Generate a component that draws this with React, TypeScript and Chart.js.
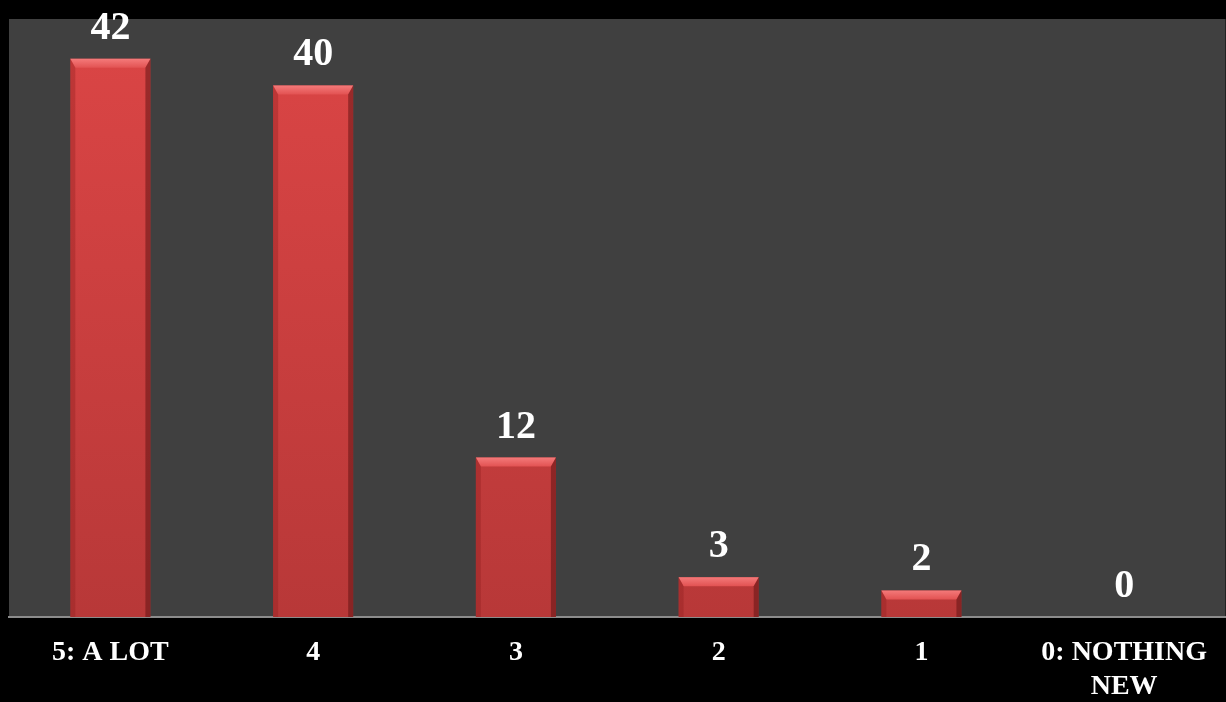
import React, { useEffect, useRef } from "react";
import { Chart, registerables } from "chart.js";

Chart.register(...registerables);

const categories: (string | string[])[] = ["5: A LOT", "4", "3", "2", "1", ["0: NOTHING", "NEW"]];
const values: number[] = [42, 40, 12, 3, 2, 0];
const yMax = 45;

const plotBg = {
  id: "plotBg",
  beforeDraw(chart: any) {
    const { ctx, chartArea, width, height } = chart;
    ctx.save();
    ctx.fillStyle = "#000000";
    ctx.fillRect(0, 0, width, height);
    ctx.fillStyle = "#404040";
    ctx.fillRect(chartArea.left, chartArea.top, chartArea.right - chartArea.left, chartArea.bottom - chartArea.top);
    ctx.restore();
  },
};

const bevel = {
  id: "bevel",
  afterDatasetsDraw(chart: any) {
    const { ctx } = chart;
    const meta = chart.getDatasetMeta(0);
    ctx.save();
    meta.data.forEach((bar: any) => {
      const w = bar.width;
      const l = bar.x - w / 2;
      const r = bar.x + w / 2;
      const t = bar.y;
      const b = bar.base;
      const h = b - t;
      if (h < 1) return;
      const bv = Math.min(9, h / 2);
      const sv = Math.min(5, w / 2);
      ctx.beginPath();
      ctx.moveTo(l, t);
      ctx.lineTo(r, t);
      ctx.lineTo(r - sv, t + bv);
      ctx.lineTo(l + sv, t + bv);
      ctx.closePath();
      const gt = ctx.createLinearGradient(0, t, 0, t + bv);
      gt.addColorStop(0, "#f47a7a");
      gt.addColorStop(1, "#e25252");
      ctx.fillStyle = gt;
      ctx.fill();
      ctx.beginPath();
      ctx.moveTo(l, t);
      ctx.lineTo(l + sv, t + bv);
      ctx.lineTo(l + sv, b);
      ctx.lineTo(l, b);
      ctx.closePath();
      ctx.fillStyle = "rgba(140,30,30,0.35)";
      ctx.fill();
      ctx.beginPath();
      ctx.moveTo(r, t);
      ctx.lineTo(r - sv, t + bv);
      ctx.lineTo(r - sv, b);
      ctx.lineTo(r, b);
      ctx.closePath();
      ctx.fillStyle = "rgba(90,15,15,0.5)";
      ctx.fill();
    });
    ctx.restore();
  },
};

const valueLabels = {
  id: "valueLabels",
  afterDatasetsDraw(chart: any) {
    const { ctx } = chart;
    const meta = chart.getDatasetMeta(0);
    ctx.save();
    ctx.fillStyle = "#ffffff";
    ctx.font = "bold 40px 'Liberation Serif', 'Times New Roman', serif";
    ctx.textAlign = "center";
    ctx.textBaseline = "alphabetic";
    meta.data.forEach((bar: any, i: number) => {
      ctx.fillText(String(values[i]), bar.x, bar.y - 20);
    });
    ctx.restore();
  },
};

export default function App() {
  const ref = useRef<HTMLCanvasElement>(null);
  useEffect(() => {
    document.body.style.margin = "0";
    document.body.style.background = "#000";
    const canvas = ref.current!;
    const ctx = canvas.getContext("2d")!;
    const bodyGrad = ctx.createLinearGradient(0, 0, 0, 617);
    bodyGrad.addColorStop(0, "#dd4646");
    bodyGrad.addColorStop(1, "#b83838");
    const chart = new Chart(canvas, {
      type: "bar",
      data: {
        labels: categories,
        datasets: [
          {
            data: values,
            backgroundColor: bodyGrad,
            borderWidth: 0,
            barPercentage: 0.395,
            categoryPercentage: 1,
          },
        ],
      },
      options: {
        animation: false,
        responsive: false,
        devicePixelRatio: 1,
        layout: { padding: { left: 9, top: 19, right: 0, bottom: 0 } },
        plugins: { legend: { display: false }, tooltip: { enabled: false } },
        scales: {
          x: {
            grid: { display: false, drawTicks: false },
            border: { display: true, color: "#8c8c8c", width: 2 },
            afterFit: (scale: any) => {
              scale.height = 85;
            },
            ticks: {
              color: "#ffffff",
              padding: 19,
              maxRotation: 0,
              autoSkip: false,
              font: { family: "'Liberation Serif', 'Times New Roman', serif", size: 28, weight: "bold", lineHeight: 1.2 },
            },
          },
          y: { display: false, min: 0, max: yMax },
        },
      },
      plugins: [plotBg, bevel, valueLabels],
    });
    return () => chart.destroy();
  }, []);
  return <canvas ref={ref} width={1226} height={702} style={{ display: "block" }} />;
}
